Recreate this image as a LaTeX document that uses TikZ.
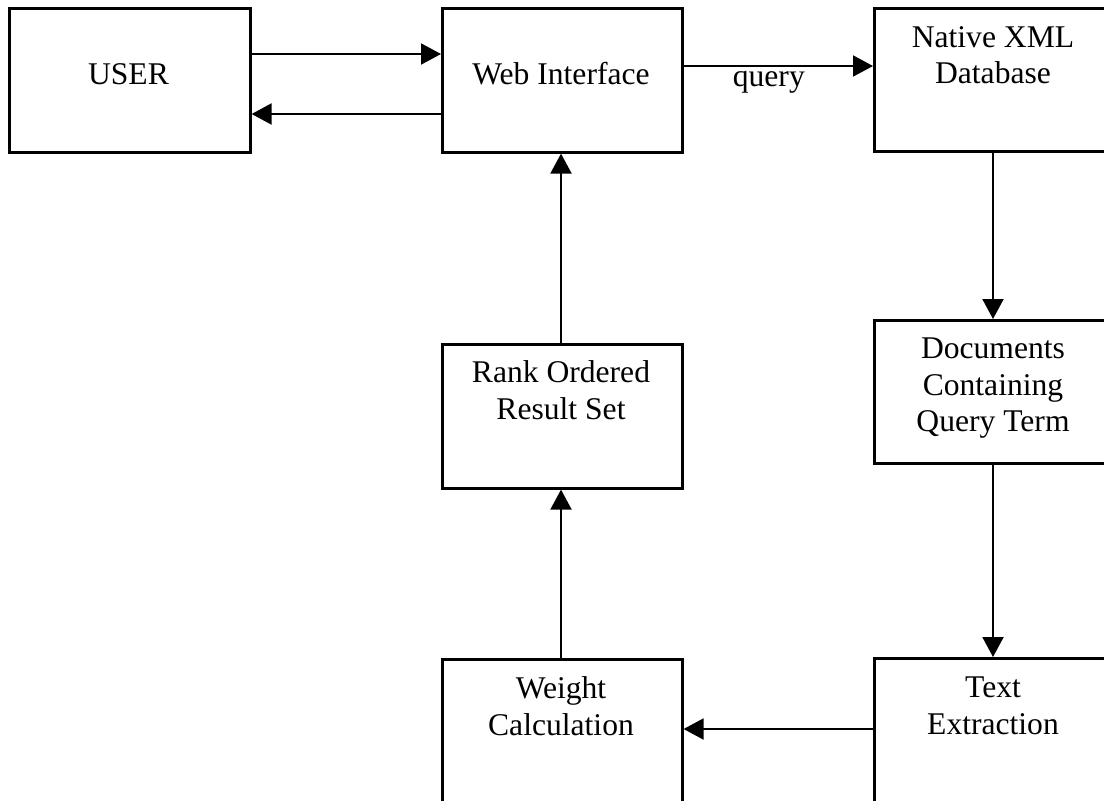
\documentclass[tikz,border=0pt]{standalone}
\usepackage{fontspec}
\setmainfont{Liberation Serif}
\usetikzlibrary{arrows.meta}
\begin{document}
\begin{tikzpicture}[x=1pt,y=-1pt,
  box/.style={draw, line width=2.6pt, minimum width=240pt, minimum height=144pt, inner sep=0pt, anchor=north west},
  txt/.style={font=\fontsize{31.6}{36.5}\selectfont, align=center, inner sep=0pt},
  conn/.style={line width=2pt, -{Triangle[length=20pt,width=21pt]}}]
\useasboundingbox (0,0) rectangle (1104,801);
\clip (0,0) rectangle (1104,801);
% boxes
\node[box, minimum width=241pt] (user) at (8,7) {};
\node[box] (web) at (441,7) {};
\node[box, minimum height=143pt] (xml) at (873,7) {};
\node[box] (rank) at (441,343) {};
\node[box, minimum height=143pt] (docs) at (873,319) {};
\node[box] (weight) at (441,658) {};
\node[box] (textx) at (873,657) {};
% texts
\node[txt, anchor=base] (tuser) at (128.5,84) {USER};
\node[txt, anchor=base] (tweb) at (561,84) {Web Interface};
\node[txt, anchor=north] (txml) at (993,26) {Native XML\\Database};
\node[txt, anchor=north] (trank) at (561,360.5) {Rank Ordered\\Result Set};
\node[txt, anchor=north] (tdocs) at (993,338) {Documents\\Containing\\Query Term};
\node[txt, anchor=north] (tweight) at (561,676.5) {Weight\\Calculation};
\node[txt, anchor=north] (ttext) at (993,677) {Text\\Extraction};
% helper coordinates
\coordinate (h54) at (0,54);
\coordinate (h114) at (0,114);
\coordinate (h66) at (0,66);
\coordinate (h729) at (0,729);
\coordinate (v561) at (561,0);
\coordinate (v993) at (993,0);
% connectors
\draw[conn] (user.east |- h54) -- (web.west |- h54);
\draw[conn] (web.west |- h114) -- (user.east |- h114);
\draw[conn] (web.east |- h66) -- node[pos=0.45, anchor=base, yshift=-20pt, txt] (lq) {query} (xml.west |- h66);
\draw[conn] (xml.south -| v993) -- (docs.north -| v993);
\draw[conn] (docs.south -| v993) -- (textx.north -| v993);
\draw[conn] (textx.west |- h729) -- (weight.east |- h729);
\draw[conn] (weight.north -| v561) -- (rank.south -| v561);
\draw[conn] (rank.north -| v561) -- (web.south -| v561);
\end{tikzpicture}
\end{document}
